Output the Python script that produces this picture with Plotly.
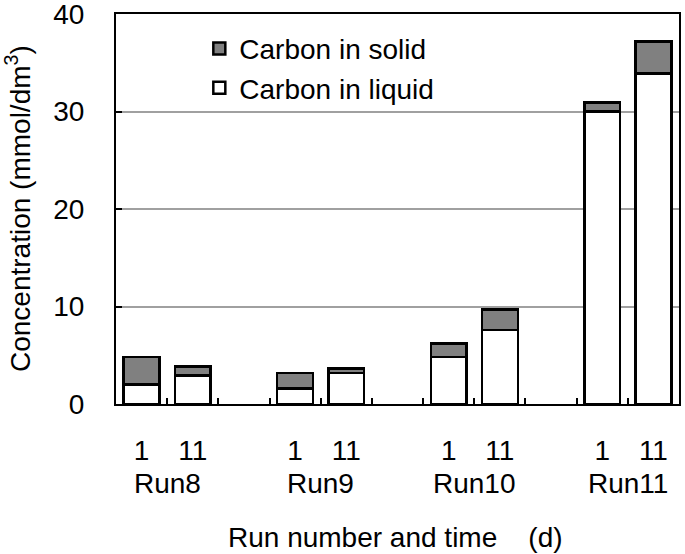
import plotly.graph_objects as go

runs = ["Run8", "Run9", "Run10", "Run11"]
days = ["1", "11"]
# mmol/dm3, two values (day 1, day 11) per run
carbon_liquid = [2.0, 2.9, 1.6, 3.2, 4.8, 7.6, 30.0, 33.9]
carbon_solid = [2.8, 0.95, 1.6, 0.45, 1.4, 2.1, 0.9, 3.3]

FONT = "Liberation Sans, Arial, sans-serif"
FS = 28

# category axis with an empty slot between runs
cats = []
tick_text = []
bar_x = []
run_centers = []
for i, run in enumerate(runs):
    run_centers.append(len(cats) + 0.5)
    for d in days:
        key = f"{run} {d}"
        cats.append(key)
        tick_text.append(d)
        bar_x.append(key)
    if i < len(runs) - 1:
        cats.append(f"gap{i}")
        tick_text.append("")

fig = go.Figure()

fig.add_trace(go.Bar(x=bar_x, y=carbon_liquid, name="Carbon in liquid",
                     marker=dict(color="white", line=dict(color="black", width=2.5))))
fig.add_trace(go.Bar(x=bar_x, y=carbon_solid, name="Carbon in solid",
                     marker=dict(color="#808080", line=dict(color="black", width=2.5))))

for run, xc in zip(runs, run_centers):
    fig.add_annotation(x=xc, y=0, xref="x", yref="paper", yanchor="middle",
                       yshift=-79, text=run, showarrow=False,
                       font=dict(size=FS, color="black", family=FONT))

fig.add_annotation(x=0.4964, y=0, xref="paper", yref="paper", yanchor="middle",
                   yshift=-133, text="Run number and time \u00a0\u00a0\u00a0(d)",
                   showarrow=False, font=dict(size=FS, color="black", family=FONT))
fig.add_annotation(x=0, y=0.5, xref="paper", yref="paper", xanchor="center",
                   xshift=-98, text="Concentration (mmol/dm<sup>3</sup>)", textangle=-90,
                   showarrow=False, font=dict(size=FS, color="black", family=FONT))

fig.update_layout(
    width=685, height=554,
    barmode="stack", bargap=0.3,
    paper_bgcolor="white", plot_bgcolor="white",
    font=dict(family=FONT, size=FS, color="black"),
    margin=dict(l=116, r=6, t=14, b=150, autoexpand=False),
    legend=dict(x=0.148, y=0.975, xanchor="left", yanchor="top",
                traceorder="reversed", bgcolor="rgba(0,0,0,0)",
                font=dict(size=FS), tracegroupgap=0),
    xaxis=dict(type="category", categoryorder="array", categoryarray=cats,
               tickmode="array", tickvals=cats, ticktext=tick_text,
               tickson="boundaries", ticks="inside", ticklen=6, tickwidth=2,
               tickcolor="black", showline=True, linecolor="black", linewidth=2,
               mirror=True, showgrid=False, range=[-0.5, len(cats) - 0.5],
               ticklabelstandoff=20),
    yaxis=dict(range=[0, 40], tickvals=[0, 10, 20, 30, 40], ticks="inside",
               ticklen=6, tickwidth=2, tickcolor="black", showline=True,
               linecolor="black", linewidth=2, mirror=True, showgrid=True,
               gridcolor="#a0a0a0", gridwidth=2, zeroline=False,
               ticklabelstandoff=24, ticklabeloverflow="allow"),
)

# drop the default body margin so the 685x554 figure fills the window
fig.write_html("out.html", config={"displayModeBar": False},
               post_script="document.body.style.margin = '0';")
